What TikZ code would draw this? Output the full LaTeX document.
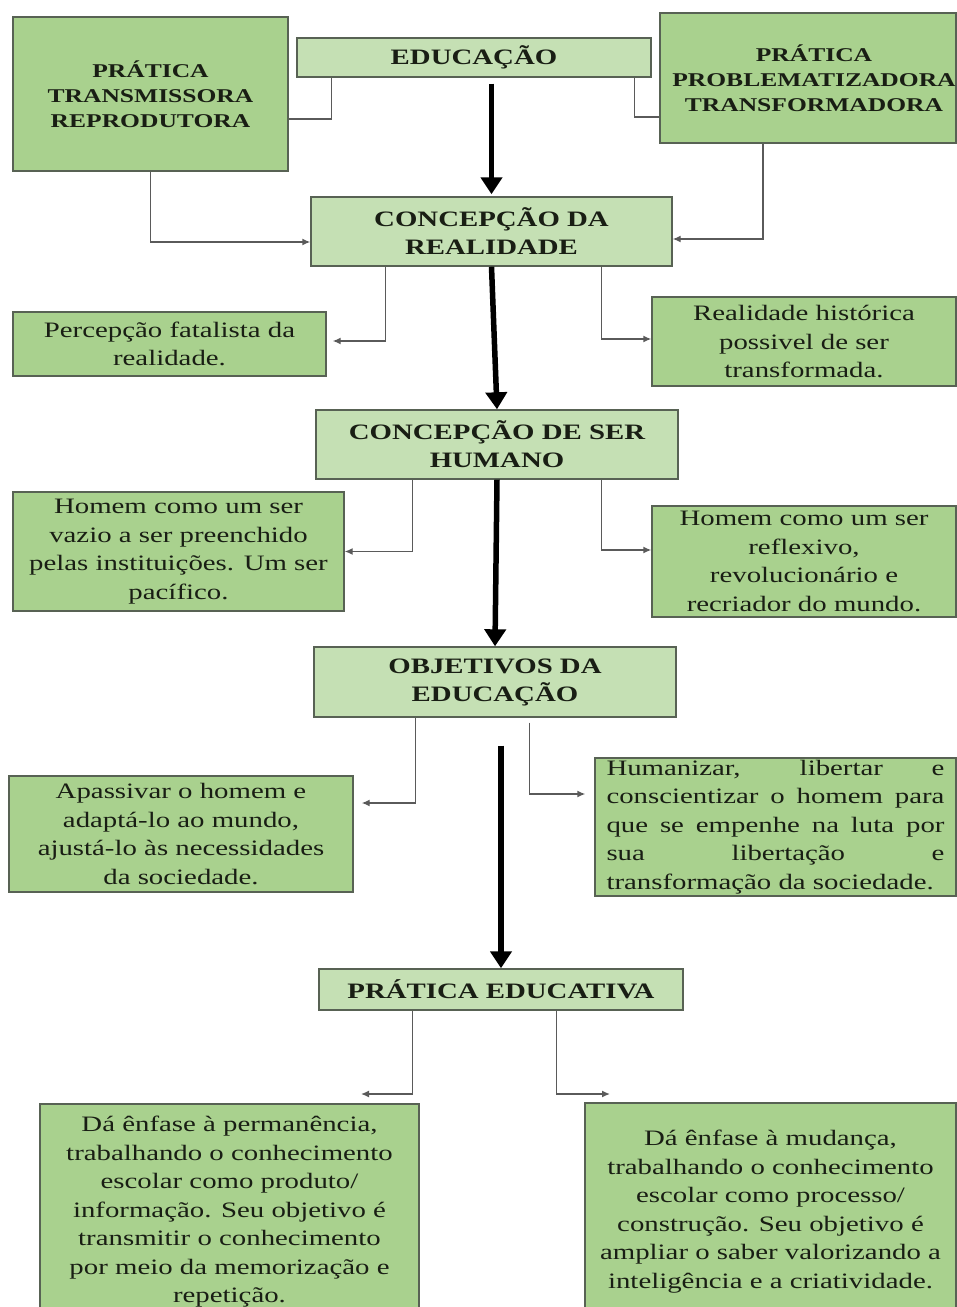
\documentclass[tikz,border=0pt]{standalone}
\usepackage{fontspec}
\setmainfont{Liberation Serif}[FakeStretch=1.31]
\usetikzlibrary{arrows.meta}
\definecolor{boxdark}{RGB}{169,209,142}
\definecolor{boxlight}{RGB}{197,224,180}
\definecolor{boxline}{RGB}{88,98,84}
\definecolor{linkgrey}{RGB}{90,90,90}
\definecolor{ink}{RGB}{25,30,20}

\begin{document}
\begin{tikzpicture}[x=1pt,y=-1pt,
  box/.style={draw=boxline,line width=1.4pt,inner sep=0pt,align=center,text=ink,
    font=\fontsize{22}{28.5}\selectfont},
  note/.style={box,fill=boxdark},
  head/.style={box,fill=boxlight,font=\fontsize{22}{28}\selectfont\bfseries},
  side/.style={box,fill=boxdark,font=\fontsize{19.5}{25}\selectfont\bfseries},
  link/.style={draw=linkgrey,line width=1.4pt},
  linkto/.style={link,-{Latex[length=8pt,width=7pt]}},
  flow/.style={line width=5.5pt,-{Triangle[length=17pt,width=21pt]}}]

\useasboundingbox (0,0) rectangle (957,1307);
\fill[white] (0,0) rectangle (957,1307);

% top row
\node[side,minimum width=275pt,minimum height=154pt] (trans) at (150.5,94)
  {PRÁTICA\\TRANSMISSORA\\REPRODUTORA};
\node[head,minimum width=354pt,minimum height=39pt] (edu) at (474,57.5) {EDUCAÇÃO};
\node[side,minimum width=296pt,minimum height=130pt] (probl) at (808,78)
  {\hspace*{12pt}PRÁTICA\\\hspace*{12pt}PROBLEMATIZADORA\\\hspace*{12pt}TRANSFORMADORA};

% realidade
\node[head,minimum width=361pt,minimum height=69pt] (real) at (491.5,231.5)
  {CONCEPÇÃO DA\\REALIDADE};
\node[note,minimum width=313pt,minimum height=64pt] (fatal) at (169.5,344)
  {Percepção fatalista da\\realidade.};
\node[note,minimum width=304pt,minimum height=89pt] (hist) at (804,341.5)
  {Realidade histórica\\possivel de ser\\transformada.};

% ser humano
\node[head,minimum width=362pt,minimum height=69pt] (human) at (497,444.5)
  {CONCEPÇÃO DE SER\\HUMANO};
\node[note,minimum width=331pt,minimum height=119pt] (vazio) at (178.5,551.5)
  {Homem como um ser\\vazio a ser preenchido\\pelas instituições. Um ser\\pacífico.};
\node[note,minimum width=304pt,minimum height=111pt] (reflex) at (804,561.5)
  {Homem como um ser\\reflexivo,\\revolucionário e\\recriador do mundo.};

% objetivos
\node[head,minimum width=362pt,minimum height=70pt] (obj) at (495,682)
  {OBJETIVOS DA\\EDUCAÇÃO};
\node[note,minimum width=344pt,minimum height=116pt] (apass) at (181,834)
  {Apassivar o homem e\\adaptá-lo ao mundo,\\ajustá-lo às necessidades\\da sociedade.};
\node[note,minimum width=361pt,minimum height=138pt,text width=338pt,align=justify] (liberta) at (775.5,827)
  {Humanizar, libertar e\linebreak conscientizar o homem para\linebreak que se empenhe na luta por\linebreak sua libertação e\linebreak transformação da sociedade.};

% prática educativa
\node[head,minimum width=364pt,minimum height=41pt] (pratica) at (501,989.5) {PRÁTICA EDUCATIVA};
\node[note,minimum width=379pt,minimum height=216pt] (perman) at (229.5,1212)
  {Dá ênfase à permanência,\\trabalhando o conhecimento\\escolar como produto/\\informação. Seu objetivo é\\transmitir o conhecimento\\por meio da memorização e\\repetição.};
\node[note,minimum width=371pt,minimum height=217pt] (mudanca) at (770.5,1211.5)
  {Dá ênfase à mudança,\\trabalhando o conhecimento\\escolar como processo/\\construção. Seu objetivo é\\ampliar o saber valorizando a\\inteligência e a criatividade.};
\coordinate (pl) at (361,1094);
\coordinate (pr) at (610,1094);

% main flow
\draw[flow,shorten <=6pt,shorten >=2pt] (real.north |- edu.south) -- (real.north);
\draw[flow] (real.south) -- (human.north);
\draw[flow] (human.south) -- (obj.north);
\draw[flow,shorten <=28pt] (pratica.north |- obj.south) -- (pratica.north);

% side links
\draw[link] ([xshift=35pt]edu.south west) |- ([yshift=-25pt]trans.east);
\draw[link] ([xshift=-17pt]edu.south east) |- ([yshift=-39pt]probl.west);
\draw[linkto] (trans.south) |- ([yshift=-10.5pt]real.west);
\draw[linkto] ([xshift=-45pt]probl.south) |- ([yshift=-7.5pt]real.east);
\draw[linkto,shorten >=6pt] ([xshift=75pt]real.south west) |- ([yshift=3pt]fatal.east);
\draw[linkto] ([xshift=-71pt]real.south east) |- ([yshift=2.5pt]hist.west);
\draw[linkto] ([xshift=97pt]human.south west) |- (vazio.east);
\draw[linkto] ([xshift=-77pt]human.south east) |- ([yshift=11.5pt]reflex.west);
\draw[linkto,shorten >=8pt] ([xshift=102pt]obj.south west) |- ([yshift=31pt]apass.east);
\draw[linkto,shorten <=5pt,shorten >=9pt] ([xshift=216pt]obj.south west) |- ([yshift=33pt]liberta.west);
\draw[linkto] ([xshift=94pt]pratica.south west) |- (pl);
\draw[linkto] ([xshift=238pt]pratica.south west) |- (pr);
\end{tikzpicture}
\end{document}
